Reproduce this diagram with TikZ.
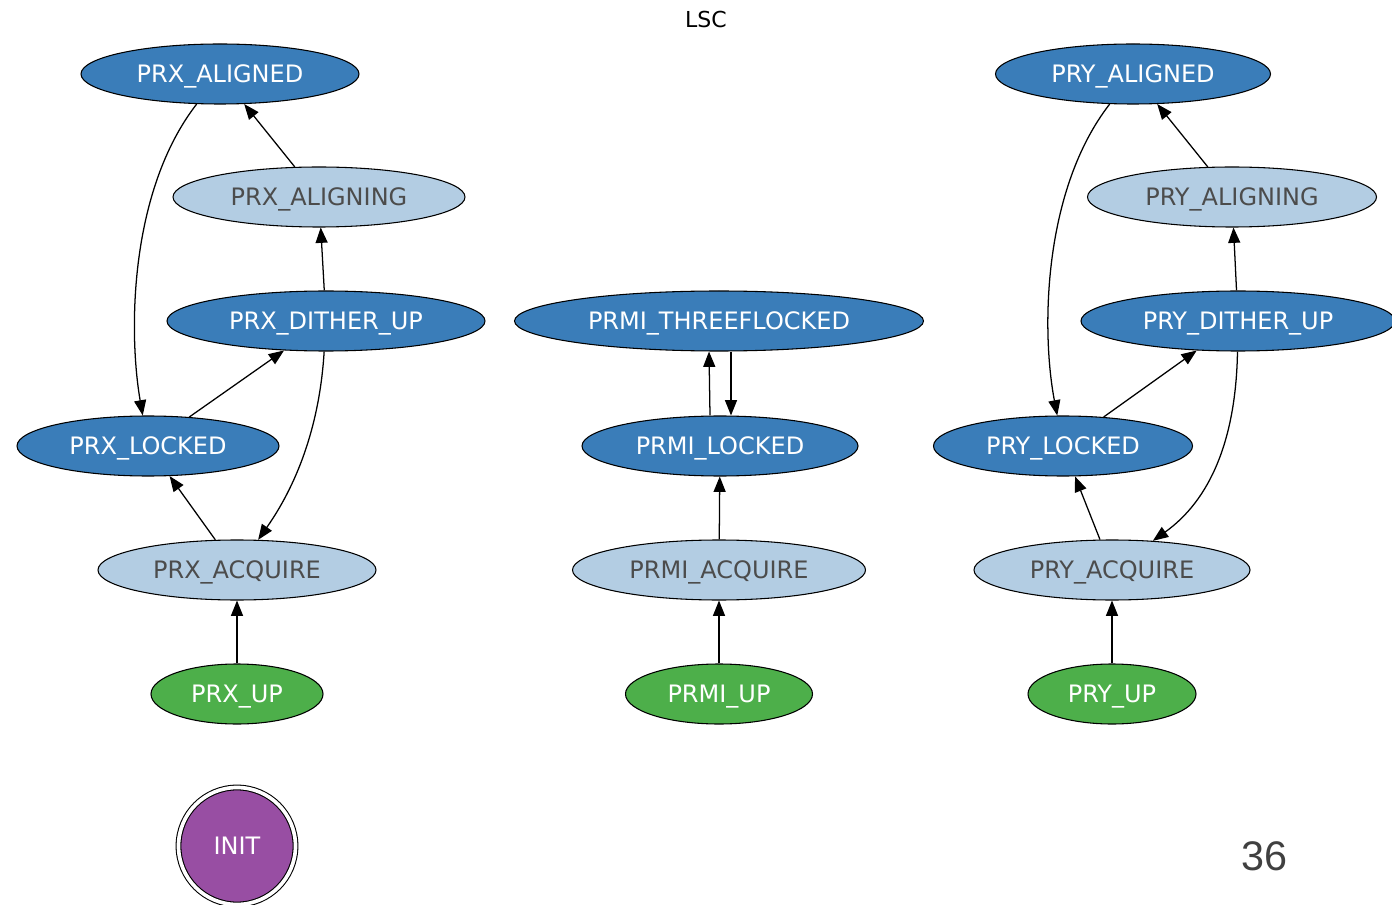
\documentclass[tikz,border=0pt]{standalone}
\usepackage{fontspec}
\setmainfont{DejaVu Sans}
\newfontfamily\pagefont{Liberation Sans}
\usetikzlibrary{shapes.geometric, arrows.meta}
\definecolor{setblue}{HTML}{3A7DB9}
\definecolor{setpale}{HTML}{B3CDE3}
\definecolor{setgreen}{HTML}{4DAF4A}
\definecolor{setpurple}{HTML}{984EA3}
\begin{document}
\begin{tikzpicture}
    [x=0.75pt, y=-0.75pt,
      state/.style={ellipse, draw, line width=0.8pt, inner sep=0pt, text depth=0pt,
        minimum height=45pt, font=\fontsize{18}{20}\selectfont},
      firm/.style={state, fill=setblue, text=white},
      soft/.style={state, fill=setpale, text=black!70},
      entry/.style={state, fill=setgreen, text=white},
      boot/.style={circle, draw, double, double distance=2.75pt, line width=0.8pt,
        fill=setpurple, text=white, text depth=0pt, minimum size=87.75pt,
        font=\fontsize{18}{20}\selectfont},
      link/.style={-{Triangle[length=11.5pt, width=9pt]}, line width=0.95pt}]
    \useasboundingbox (0,0) rectangle (1392,905);
    \node[font=\fontsize{16.5}{18}\selectfont] (title) at (706,19) {LSC};
    \node[firm, minimum width=208.5pt] (prxaligned) at (220,74) {PRX\_ALIGNED};
    \node[soft, minimum width=219pt] (prxaligning) at (319,197) {PRX\_ALIGNING};
    \node[firm, minimum width=238.5pt] (prxdither) at (326,321) {PRX\_DITHER\_UP};
    \node[firm, minimum width=196.5pt] (prxlocked) at (148,446) {PRX\_LOCKED};
    \node[soft, minimum width=208.5pt] (prxacquire) at (237,570) {PRX\_ACQUIRE};
    \node[entry, minimum width=129pt] (prxup) at (237,694) {PRX\_UP};
    \node[firm, minimum width=306.75pt] (prmithree) at (719,321) {PRMI\_THREEFLOCKED};
    \node[firm, minimum width=207pt] (prmilocked) at (720,446) {PRMI\_LOCKED};
    \node[soft, minimum width=219.75pt] (prmiacquire) at (719,570) {PRMI\_ACQUIRE};
    \node[entry, minimum width=140.25pt] (prmiup) at (719,694) {PRMI\_UP};
    \node[firm, minimum width=206.25pt] (pryaligned) at (1133,74) {PRY\_ALIGNED};
    \node[soft, minimum width=216.75pt] (pryaligning) at (1232,197) {PRY\_ALIGNING};
    \node[firm, minimum width=235.5pt] (prydither) at (1238,321) {PRY\_DITHER\_UP};
    \node[firm, minimum width=194.25pt] (prylocked) at (1063,446) {PRY\_LOCKED};
    \node[soft, minimum width=207pt] (pryacquire) at (1112,570) {PRY\_ACQUIRE};
    \node[entry, minimum width=126pt] (pryup) at (1112,694) {PRY\_UP};
    \node[boot] (init) at (237,846) {INIT};
    \node[font=\pagefont\fontsize{31}{34}\selectfont, text=black!75] (page) at (1264,856) {36};

    \draw[link] (prxaligning) -- (prxaligned);
    \draw[link] (prxdither) -- (prxaligning);
    \draw[link] (prxaligned) .. controls (130,190) and (128,330) .. (prxlocked);
    \draw[link] (prxlocked) -- (prxdither);
    \draw[link] (prxdither) .. controls (320,420) and (300,480) .. (prxacquire);
    \draw[link] (prxacquire) -- (prxlocked);
    \draw[link] (prxup) -- (prxacquire);

    \draw[link] ([xshift=-7.5pt]prmilocked.north) -- ([xshift=-7.5pt]prmithree.south);
    \draw[link] ([xshift=9pt]prmithree.south) -- ([xshift=8.25pt]prmilocked.north);
    \draw[link] (prmiacquire) -- (prmilocked);
    \draw[link] (prmiup) -- (prmiacquire);

    \draw[link] (pryaligning) -- (pryaligned);
    \draw[link] (prydither) -- (pryaligning);
    \draw[link] (pryaligned) .. controls (1043,190) and (1041,330) .. (prylocked);
    \draw[link] (prylocked) -- (prydither);
    \draw[link] (prydither) .. controls (1236,440) and (1210,500) .. (pryacquire);
    \draw[link] (pryacquire) -- (prylocked);
    \draw[link] (pryup) -- (pryacquire);
\end{tikzpicture}
\end{document}
